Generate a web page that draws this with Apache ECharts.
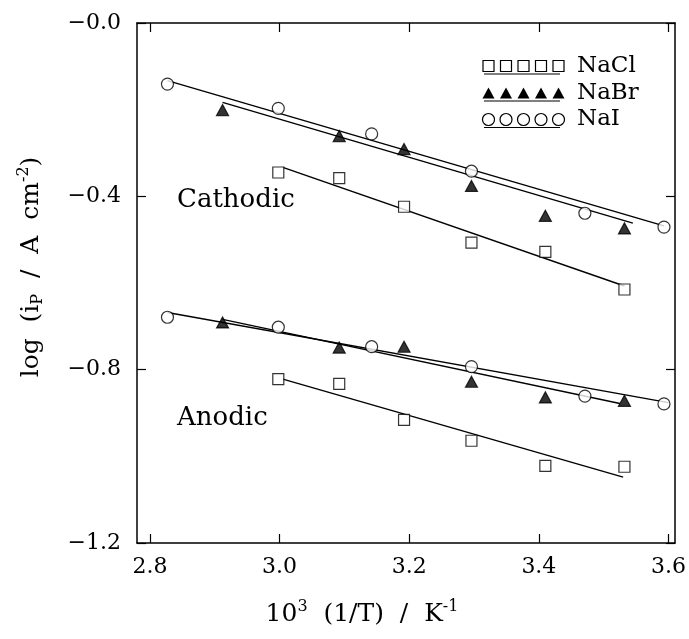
<!DOCTYPE html>
<html>
<head>
<meta charset="utf-8">
<script src="https://cdn.jsdelivr.net/npm/echarts@6/dist/echarts.min.js"></script>
<style>
  html, body { margin: 0; padding: 0; background: #fff; }
  #chart { width: 689px; height: 639px; }
</style>
</head>
<body>
<div id="chart"></div>
<script>
// tick values
const xTicks = [2.8, 3.0, 3.2, 3.4, 3.6];

// cathodic peaks [1000/T, log ip]
const naclCath = [[2.998, -0.345], [3.092, -0.358], [3.192, -0.424], [3.296, -0.507], [3.410, -0.528], [3.532, -0.615]];
const nabrCath = [[2.912, -0.201], [3.092, -0.261], [3.192, -0.291], [3.296, -0.376], [3.410, -0.445], [3.532, -0.474]];
const naiCath = [[2.827, -0.141], [2.998, -0.197], [3.142, -0.256], [3.296, -0.342], [3.471, -0.439], [3.593, -0.471]];

// anodic peaks
const naclAn = [[2.998, -0.822], [3.092, -0.833], [3.192, -0.916], [3.296, -0.964], [3.410, -1.022], [3.532, -1.024]];
const nabrAn = [[2.912, -0.691], [3.092, -0.749], [3.192, -0.747], [3.296, -0.828], [3.410, -0.864], [3.532, -0.872]];
const naiAn = [[2.827, -0.679], [2.998, -0.702], [3.142, -0.747], [3.296, -0.793], [3.471, -0.861], [3.593, -0.879]];

// fitted lines (end points)
const naclCathFit = [[3.005, -0.333], [3.532, -0.607]];
const nabrCathFit = [[2.912, -0.183], [3.545, -0.462]];
const naiCathFit = [[2.827, -0.133], [3.593, -0.468]];
const naclAnFit = [[3.005, -0.822], [3.530, -1.048]];
const nabrAnFit = [[2.912, -0.684], [3.525, -0.878]];
const naiAnFit = [[2.827, -0.668], [3.600, -0.876]];

const TRI = "path://M0,10 L5,0 L10,10 Z";
const serif = "DejaVu Serif";

function fit(data) {
  return {
    type: "line",
    data: data,
    symbol: "none",
    z: 2,
    lineStyle: { color: "#000", width: 1.4 },
    silent: true,
  };
}
function pts(data, symbol, size, filled) {
  return {
    type: "scatter",
    data: data,
    symbol: symbol,
    symbolSize: size,
    z: 3,
    itemStyle: {
      color: filled ? "#000" : "#fff",
      borderColor: "#000",
      borderWidth: 1.2,
    },
  };
}

// legend drawn by hand: 5 markers over a line
const legendRows = [
  { name: "NaCl", y: 66, kind: "rect" },
  { name: "NaBr", y: 93, kind: "tri" },
  { name: "NaI", y: 119.5, kind: "circle" },
];
const legendX = [488.5, 506, 523.5, 541, 558.5];
const graphics = [];
legendRows.forEach((r) => {
  legendX.forEach((cx) => {
    if (r.kind === "rect") {
      graphics.push({ type: "rect", shape: { x: cx - 5.5, y: r.y - 5.5, width: 11, height: 11 }, style: { fill: "#fff", stroke: "#000", lineWidth: 1.2 } });
    } else if (r.kind === "tri") {
      graphics.push({ type: "polygon", shape: { points: [[cx - 6, r.y + 5.5], [cx, r.y - 5.5], [cx + 6, r.y + 5.5]] }, style: { fill: "#000" } });
    } else {
      graphics.push({ type: "circle", shape: { cx: cx, cy: r.y, r: 6 }, style: { fill: "#fff", stroke: "#000", lineWidth: 1.2 } });
    }
  });
  graphics.push({ type: "line", shape: { x1: 484, y1: r.y + 8, x2: 560, y2: r.y + 8 }, style: { stroke: "#000", lineWidth: 1.2 } });
  graphics.push({ type: "text", x: 577, y: r.y, style: { text: r.name, font: "23px '" + serif + "'", fill: "#000", verticalAlign: "middle" } });
});
graphics.push({ type: "text", x: 177, y: 200, style: { text: "Cathodic", font: "26px '" + serif + "'", fill: "#000", verticalAlign: "middle" } });
graphics.push({ type: "text", x: 177, y: 418, style: { text: "Anodic", font: "26px '" + serif + "'", fill: "#000", verticalAlign: "middle" } });

// axis titles
const titleRich = {
  n: { fontFamily: serif, fontSize: 25, lineHeight: 30, verticalAlign: "middle", color: "#000" },
  sub: { fontFamily: serif, fontSize: 16, lineHeight: 30, verticalAlign: "bottom", color: "#000" },
  sup: { fontFamily: serif, fontSize: 16, lineHeight: 15, verticalAlign: "top", color: "#000" },
};
graphics.push({
  type: "text",
  x: 31, y: 267,
  rotation: Math.PI / 2,
  style: {
    text: "{n|log  (i}{sub|P}{n|  /  A  cm}{sup|-2}{n|)}",
    align: "center",
    verticalAlign: "middle",
    rich: titleRich,
  },
});
graphics.push({
  type: "text",
  x: 362, y: 614,
  style: {
    text: "{n|10}{sup|3}{n|  (1/T)  /  K}{sup|-1}",
    align: "center",
    verticalAlign: "middle",
    rich: titleRich,
  },
});

const axisLine = { show: true, onZero: false, lineStyle: { color: "#000", width: 1.5 } };
const tickIn = { show: true, inside: true, length: 9, lineStyle: { color: "#000", width: 1.2 } };

const options = {
  animation: false,
  backgroundColor: "#fff",
  grid: { left: 137, right: 11, top: 23, bottom: 96 },
  xAxis: [
    {
      type: "value",
      min: 2.78,
      max: 3.61,
      axisLine: axisLine,
      axisTick: Object.assign({ customValues: xTicks }, tickIn),
      axisLabel: {
        customValues: xTicks,
        margin: 13,
        color: "#000",
        fontFamily: serif,
        fontSize: 22,
        formatter: (v) => v.toFixed(1),
      },
      splitLine: { show: false },
    },
    {
      type: "value",
      position: "top",
      min: 2.78,
      max: 3.61,
      axisLine: axisLine,
      axisTick: Object.assign({ customValues: xTicks }, tickIn),
      axisLabel: { show: false },
      splitLine: { show: false },
    },
  ],
  yAxis: [
    {
      type: "value",
      min: -1.2,
      max: 0,
      interval: 0.4,
      axisLine: axisLine,
      axisTick: tickIn,
      axisLabel: {
        margin: 16,
        color: "#000",
        fontFamily: serif,
        fontSize: 22,
        formatter: (v) => "\u2212" + Math.abs(v).toFixed(1),
      },
      splitLine: { show: false },
    },
    {
      type: "value",
      position: "right",
      min: -1.2,
      max: 0,
      interval: 0.4,
      axisLine: axisLine,
      axisTick: tickIn,
      axisLabel: { show: false },
      splitLine: { show: false },
    },
  ],
  series: [
    fit(naclCathFit), fit(nabrCathFit), fit(naiCathFit),
    fit(naclAnFit), fit(nabrAnFit), fit(naiAnFit),
    pts(naclCath, "rect", 11, false),
    pts(nabrCath, TRI, [12, 11], true),
    pts(naiCath, "circle", 12, false),
    pts(naclAn, "rect", 11, false),
    pts(nabrAn, TRI, [12, 11], true),
    pts(naiAn, "circle", 12, false),
  ],
  graphic: graphics,
};

const chart = echarts.init(document.getElementById("chart"));
chart.setOption(options);
</script>
</body>
</html>
